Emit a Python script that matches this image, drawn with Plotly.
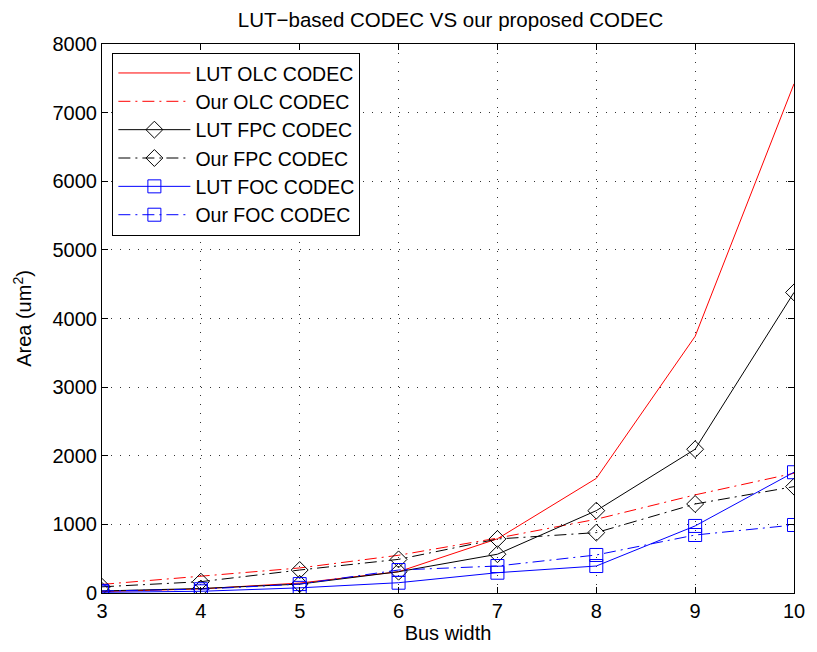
import plotly.graph_objects as go

bus_width = [3, 4, 5, 6, 7, 8, 9, 10]

lut_olc = [20, 60, 145, 310, 790, 1670, 3740, 7420]
our_olc = [125, 245, 365, 550, 800, 1075, 1430, 1745]
lut_fpc = [30, 65, 130, 310, 565, 1200, 2095, 4380]
our_fpc = [90, 165, 335, 490, 787, 880, 1297, 1550]
lut_foc = [10, 25, 75, 150, 296, 393, 977, 1760]
our_foc = [30, 55, 130, 335, 393, 554, 845, 991]

dash_dot = "12px,5px,2px,5px"

series = [
    ("LUT OLC CODEC", lut_olc, "red", "solid", None),
    ("Our OLC CODEC", our_olc, "red", dash_dot, None),
    ("LUT FPC CODEC", lut_fpc, "black", "solid", "diamond-open"),
    ("Our FPC CODEC", our_fpc, "black", dash_dot, "diamond-open"),
    ("LUT FOC CODEC", lut_foc, "blue", "solid", "square-open"),
    ("Our FOC CODEC", our_foc, "blue", dash_dot, "square-open"),
]

fig = go.Figure()
for name, vals, color, dash, symbol in series:
    mode = "lines+markers" if symbol else "lines"
    fig.add_trace(go.Scatter(
        x=bus_width, y=vals, name=name, mode=mode,
        line=dict(color=color, width=1, dash=dash),
        marker=dict(symbol=symbol or "circle", size=13, color=color,
                    line=dict(color=color, width=1)),
    ))

font_family = "Liberation Sans, Arial, sans-serif"
axis_common = dict(
    showline=True, linecolor="black", linewidth=1, mirror="ticks",
    ticks="inside", ticklen=6, tickcolor="black",
    showgrid=True, gridcolor="#333333", gridwidth=1, griddash="1px,8px",
    zeroline=False, tickfont=dict(size=20, color="black"),
)

fig.update_layout(
    width=817, height=652,
    margin=dict(l=102, r=18, t=44, b=59),
    paper_bgcolor="white", plot_bgcolor="white",
    font=dict(family=font_family, color="black"),
    title=dict(text="LUT\u2212based CODEC VS our proposed CODEC",
               x=0.5515, xanchor="center", y=0.969, yanchor="middle",
               font=dict(size=20.5, color="black")),
    xaxis=dict(range=[3, 10], dtick=1, tick0=3,
               title=dict(text="Bus width", font=dict(size=20), standoff=4),
               **axis_common),
    yaxis=dict(range=[0, 8000], dtick=1000, tick0=0,
               title=dict(text="Area (um<sup>2</sup>)", font=dict(size=20), standoff=15),
               **axis_common),
    legend=dict(x=0.015, y=0.984, xanchor="left", yanchor="top",
                bgcolor="white", bordercolor="black", borderwidth=1,
                font=dict(size=19.5, color="black"), itemwidth=72,
                tracegroupgap=0),
    showlegend=True,
)

fig.write_html("out.html")
